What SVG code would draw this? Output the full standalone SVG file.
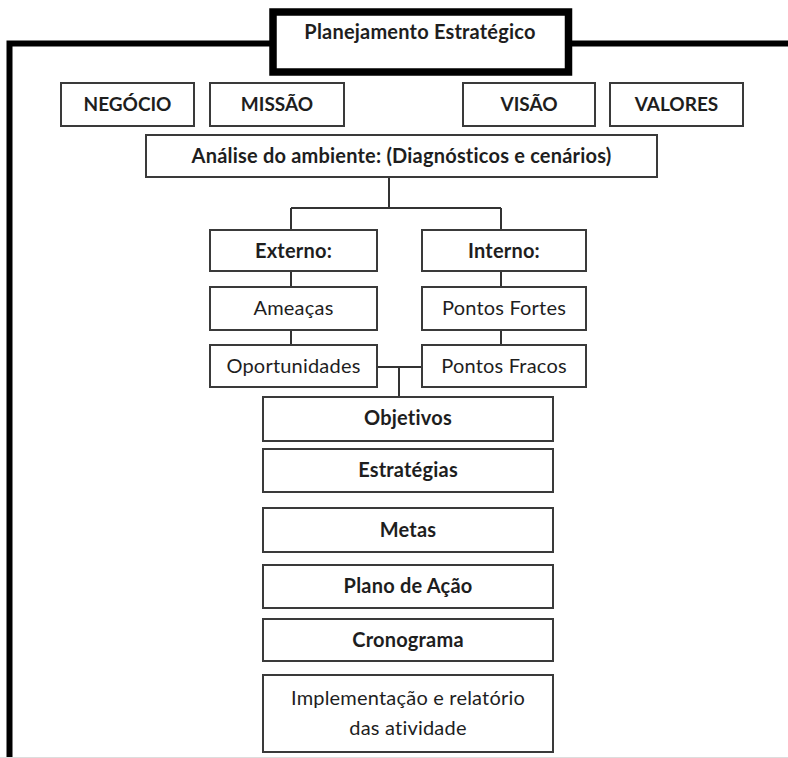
<svg xmlns="http://www.w3.org/2000/svg" width="788" height="758" viewBox="0 0 788 758">
<style>
.box{fill:#fff;stroke:#3a3a3a;stroke-width:2}
.t{font-family:Lato,"Open Sans","Liberation Sans",sans-serif;font-size:20px;letter-spacing:0.2px;fill:#1e1e1e;text-anchor:middle;font-weight:bold}
.u{font-size:19px;letter-spacing:0}
.r{font-weight:normal}
.c{fill:none;stroke:#333;stroke-width:2}
.frame{fill:none;stroke:#000}
</style>
<rect width="788" height="758" fill="#fff"/>
<g id="frame">
<path class="frame" d="M9.5 758 V43.5 H270" stroke-width="6"/>
<path class="frame" d="M570 43.5 H788" stroke-width="6"/>
<line x1="0" y1="757.5" x2="788" y2="757.5" stroke="#ddd" stroke-width="1"/>
</g>
<g id="connectors">
<path class="c" d="M389 178 V208 M291 208 H501 M291 208 V230 M501 208 V230"/>
<path class="c" d="M291 271 V287 M501 271 V287 M291 330 V345 M501 330 V345"/>
<path class="c" d="M377 367 H422 M399 367 V397"/>
</g>
<g id="title">
<rect x="273" y="12" width="295.5" height="60" fill="#fff" stroke="#000" stroke-width="7.5"/>
<text class="t" x="420" y="39">Planejamento Estratégico</text>
</g>
<g id="negocio"><rect class="box" x="61" y="83" width="133" height="43"/><text class="t u" x="127.5" y="111">NEGÓCIO</text></g>
<g id="missao"><rect class="box" x="210" y="83" width="134" height="43"/><text class="t u" x="277" y="111">MISSÃO</text></g>
<g id="visao"><rect class="box" x="463" y="83" width="132" height="43"/><text class="t u" x="529" y="111">VISÃO</text></g>
<g id="valores"><rect class="box" x="610" y="83" width="133" height="43"/><text class="t u" x="676.5" y="111">VALORES</text></g>
<g id="analise"><rect class="box" x="146" y="135" width="511" height="42"/><text class="t" x="401.5" y="163">Análise do ambiente: (Diagnósticos e cenários)</text></g>
<g id="externo"><rect class="box" x="210" y="230" width="167" height="41"/><text class="t" x="293.5" y="258">Externo:</text></g>
<g id="interno"><rect class="box" x="422" y="230" width="164" height="41"/><text class="t" x="504" y="258">Interno:</text></g>
<g id="ameacas"><rect class="box" x="210" y="287" width="167" height="43"/><text class="t r" x="293.5" y="315">Ameaças</text></g>
<g id="pontos-fortes"><rect class="box" x="422" y="287" width="164" height="43"/><text class="t r" x="504" y="315">Pontos Fortes</text></g>
<g id="oportunidades"><rect class="box" x="210" y="345" width="167" height="42"/><text class="t r" x="293.5" y="373">Oportunidades</text></g>
<g id="pontos-fracos"><rect class="box" x="422" y="345" width="164" height="42"/><text class="t r" x="504" y="373">Pontos Fracos</text></g>
<g id="objetivos"><rect class="box" x="263" y="397" width="290" height="44"/><text class="t" x="408" y="425">Objetivos</text></g>
<g id="estrategias"><rect class="box" x="263" y="449" width="290" height="43"/><text class="t" x="408" y="477">Estratégias</text></g>
<g id="metas"><rect class="box" x="263" y="508" width="290" height="44"/><text class="t" x="408" y="537">Metas</text></g>
<g id="plano"><rect class="box" x="263" y="565" width="290" height="43"/><text class="t" x="408" y="593">Plano de Ação</text></g>
<g id="cronograma"><rect class="box" x="263" y="619" width="290" height="42"/><text class="t" x="408" y="647">Cronograma</text></g>
<g id="implementacao"><rect class="box" x="263" y="675" width="290" height="77"/><text class="t r" x="408" y="705">Implementação e relatório</text><text class="t r" x="408" y="735">das atividade</text></g>
</svg>
